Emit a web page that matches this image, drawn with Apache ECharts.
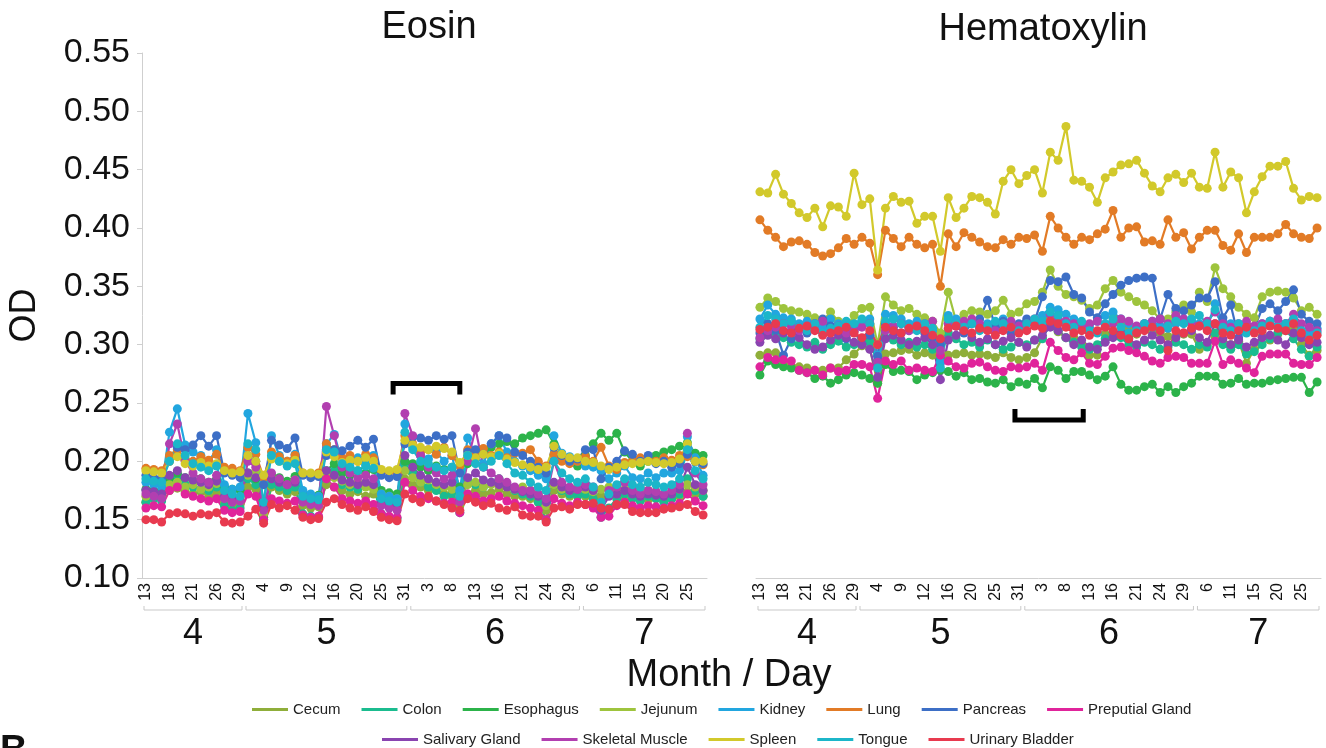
<!DOCTYPE html>
<html>
<head>
<meta charset="utf-8">
<title>Eosin / Hematoxylin OD</title>
<script src="https://cdn.jsdelivr.net/npm/echarts@6/dist/echarts.min.js"></script>
<style>
  html, body { margin: 0; padding: 0; background: #fff; }
  #chart { width: 1326px; height: 748px; }
</style>
</head>
<body>
<div id="chart"></div>
<script>
// sampling days (month/day), 72 per panel
var days = ['4/13','4/14','4/15','4/18','4/19','4/20','4/21','4/22','4/25','4/26','4/27','4/28','4/29',
  '5/2','5/3','5/4','5/5','5/6','5/9','5/10','5/11','5/12','5/13','5/14','5/16','5/17','5/19','5/20','5/23','5/24','5/25','5/26','5/27','5/31',
  '6/1','6/2','6/3','6/6','6/7','6/8','6/9','6/10','6/13','6/14','6/15','6/16','6/17','6/20','6/21','6/22','6/23','6/24','6/27','6/28','6/29','6/30',
  '7/5','7/6','7/7','7/8','7/11','7/12','7/14','7/15','7/18','7/19','7/20','7/21','7/22','7/25','7/26','7/27'];

var tissues = ['Cecum','Colon','Esophagus','Jejunum','Kidney','Lung','Pancreas','Preputial Gland',
  'Salivary Gland','Skeletal Muscle','Spleen','Tongue','Urinary Bladder'];
var colors = ['#8fae3a','#1bbc8f','#2cb34a','#9ec43d','#22a6df','#e27b26','#3d6fc6','#e0249b',
  '#8a44b0','#b23fb0','#d2c92b','#1cb6c9','#e83a4f'];

// ---- Eosin OD ----
var cecumE = [.165,.168,.170,.175,.177,.174,.172,.174,.170,.173, .165,.162,.163,.178,.176,.150,.178,.175,.172,.174,
  .162,.160,.161,.180,.178,.175,.172,.174,.170,.172, .165,.163,.162,.185,.180,.178,.175,.176,.172,.170,
  .162,.172,.175,.172,.173,.176,.172,.170,.170,.168, .165,.158,.175,.172,.170,.172,.170,.168,.170,.172,
  .169,.168,.170,.168,.167,.168,.166,.168,.170,.174, .172,.170];
var colonE = [.165,.168,.166,.182,.188,.180,.178,.176,.175,.178, .162,.158,.160,.185,.180,.150,.180,.178,.175,.178,
  .155,.153,.152,.185,.192,.180,.178,.176,.180,.178, .155,.152,.151,.198,.190,.182,.178,.175,.170,.172,
  .156,.185,.180,.178,.182,.185,.180,.175,.172,.170, .165,.150,.180,.175,.172,.170,.172,.168,.152,.160,
  .168,.172,.168,.166,.170,.168,.165,.168,.172,.185, .175,.170];
var esophagusE = [.176,.175,.174,.185,.190,.186,.183,.185,.182,.184, .178,.176,.175,.190,.185,.152,.188,.186,.183,.187,
  .172,.170,.171,.192,.198,.190,.188,.192,.190,.193, .175,.173,.172,.200,.198,.195,.192,.196,.193,.195,
  .178,.198,.205,.208,.212,.215,.217,.215,.220,.222, .224,.227,.215,.205,.200,.196,.205,.215,.224,.218,
  .224,.208,.200,.196,.200,.205,.208,.210,.213,.216, .207,.205];
var jejunumE = [.170,.172,.171,.180,.182,.178,.180,.176,.178,.181, .170,.168,.169,.188,.192,.155,.186,.183,.180,.184,
  .170,.168,.167,.190,.186,.183,.180,.182,.178,.176, .172,.170,.168,.192,.186,.182,.184,.180,.178,.176,
  .170,.180,.182,.178,.180,.182,.178,.176,.178,.175, .172,.162,.180,.176,.175,.178,.176,.174,.176,.178,
  .175,.176,.178,.176,.175,.174,.172,.174,.176,.180, .178,.175];
var kidneyE = [.182,.180,.178,.225,.245,.214,.208,.205,.200,.210, .180,.176,.178,.241,.216,.162,.222,.205,.200,.206,
  .175,.172,.170,.215,.223,.200,.195,.203,.198,.205, .172,.170,.168,.232,.212,.205,.202,.208,.200,.205,
  .175,.220,.205,.198,.215,.222,.208,.200,.196,.192, .188,.185,.222,.207,.204,.200,.196,.195,.192,.185,
  .190,.196,.186,.185,.190,.186,.190,.190,.192,.221, .203,.188];
var lungE = [.194,.193,.192,.205,.210,.202,.200,.204,.201,.206, .195,.194,.192,.212,.206,.186,.208,.204,.200,.205,
  .190,.189,.190,.215,.210,.203,.205,.200,.206,.203, .192,.191,.190,.222,.215,.208,.210,.206,.212,.205,
  .196,.210,.206,.211,.205,.208,.203,.207,.207,.210, .200,.196,.206,.200,.198,.200,.204,.200,.212,.196,
  .193,.199,.200,.203,.202,.200,.203,.201,.205,.204, .200,.197];
var pancreasE = [.188,.186,.185,.200,.212,.210,.214,.222,.213,.222, .190,.188,.186,.205,.200,.180,.218,.214,.211,.220,
  .188,.186,.187,.205,.210,.209,.213,.218,.212,.219, .188,.186,.187,.215,.221,.220,.218,.222,.219,.222,
  .190,.208,.210,.206,.215,.222,.220,.208,.205,.200, .195,.190,.212,.205,.200,.202,.210,.210,.185,.195,
  .200,.209,.206,.200,.205,.198,.200,.195,.198,.206, .200,.198];
var preputialE = [.160,.162,.161,.175,.178,.172,.170,.168,.166,.168, .158,.156,.157,.172,.170,.150,.168,.166,.164,.166,
  .154,.152,.153,.185,.178,.168,.166,.164,.166,.163, .155,.153,.152,.182,.175,.170,.168,.166,.164,.165,
  .156,.172,.170,.166,.168,.170,.166,.164,.162,.160, .158,.150,.168,.164,.162,.165,.163,.160,.152,.153,
  .162,.165,.162,.160,.162,.161,.160,.162,.164,.172, .166,.162];
var salivaryE = [.175,.174,.172,.188,.192,.186,.184,.182,.180,.183, .170,.168,.167,.190,.186,.160,.185,.182,.180,.182,
  .168,.165,.166,.192,.188,.184,.182,.180,.182,.180, .166,.164,.163,.205,.195,.188,.185,.182,.180,.182,
  .168,.186,.190,.184,.182,.180,.178,.176,.174,.172, .170,.165,.182,.178,.175,.176,.178,.175,.158,.170,
  .172,.175,.172,.170,.172,.171,.170,.172,.176,.195, .180,.175];
var skeletalE = [.172,.170,.168,.215,.232,.200,.190,.185,.182,.188, .168,.165,.166,.200,.195,.158,.190,.185,.180,.184,
  .165,.163,.162,.247,.222,.195,.190,.186,.188,.185, .162,.160,.158,.241,.222,.205,.195,.190,.185,.188,
  .165,.200,.228,.195,.190,.185,.182,.178,.175,.175, .172,.168,.200,.182,.178,.176,.180,.178,.160,.175,
  .178,.182,.175,.172,.175,.174,.172,.175,.180,.224, .190,.180];
var spleenE = [.192,.191,.190,.200,.204,.198,.196,.199,.196,.198, .192,.190,.191,.205,.200,.188,.202,.200,.198,.201,
  .190,.190,.189,.208,.204,.199,.201,.200,.203,.200, .193,.192,.193,.218,.214,.212,.210,.213,.211,.208,
  .199,.205,.203,.206,.204,.207,.202,.199,.197,.195, .193,.195,.213,.206,.203,.203,.200,.199,.196,.193,
  .195,.197,.198,.199,.200,.199,.198,.199,.202,.215, .200,.200];
var tongueE = [.185,.183,.182,.200,.215,.205,.198,.195,.192,.196, .175,.172,.170,.215,.210,.165,.205,.200,.196,.198,
  .170,.168,.167,.210,.208,.198,.195,.192,.196,.194, .168,.166,.165,.225,.210,.200,.198,.195,.192,.195,
  .170,.205,.198,.195,.200,.205,.198,.190,.188,.182, .178,.175,.200,.190,.185,.182,.185,.178,.165,.172,
  .180,.185,.180,.178,.182,.180,.178,.180,.185,.210, .192,.185];
var bladderE = [.150,.150,.148,.155,.156,.155,.153,.155,.154,.156, .148,.147,.148,.153,.159,.147,.163,.160,.162,.158,
  .152,.150,.151,.165,.168,.163,.160,.158,.161,.157, .152,.150,.149,.172,.168,.165,.170,.166,.163,.160,
  .158,.168,.165,.162,.164,.160,.158,.161,.154,.153, .153,.148,.160,.161,.159,.163,.163,.164,.160,.159,
  .163,.163,.157,.156,.156,.156,.159,.160,.161,.163, .157,.154];

// ---- Hematoxylin OD ----
var cecumH = [.291,.293,.293,.286,.281,.281,.280,.278,.278,.280, .280,.287,.292,.299,.297,.267,.292,.293,.295,.296,
  .291,.293,.291,.293,.291,.292,.293,.291,.292,.291, .289,.293,.289,.287,.289,.293,.306,.322,.311,.306,
  .306,.300,.291,.291,.309,.323,.320,.315,.309,.314, .311,.310,.307,.307,.309,.309,.296,.300,.307,.301,
  .300,.303,.284,.296,.307,.304,.309,.315,.312,.300, .291,.295];
var colonH = [.305,.312,.310,.306,.302,.300,.298,.302,.296,.300, .303,.298,.300,.305,.302,.285,.306,.304,.300,.302,
  .298,.300,.296,.288,.310,.305,.300,.302,.298,.304, .300,.296,.298,.302,.300,.304,.305,.318,.312,.306,
  .302,.298,.296,.300,.305,.310,.306,.300,.298,.302, .300,.296,.298,.302,.300,.296,.300,.298,.310,.300,
  .296,.300,.292,.294,.300,.305,.310,.312,.305,.296, .290,.298];
var esophagusH = [.274,.286,.283,.281,.280,.278,.276,.271,.273,.267, .270,.274,.276,.274,.271,.267,.283,.277,.278,.277,
  .270,.274,.276,.278,.277,.273,.276,.270,.271,.268, .267,.270,.264,.268,.266,.271,.263,.281,.278,.271,
  .277,.277,.274,.270,.273,.281,.266,.261,.261,.264, .266,.259,.264,.259,.264,.267,.273,.273,.273,.266,
  .267,.271,.266,.267,.267,.269,.270,.271,.272,.272, .259,.268];
var jejunumH = [.332,.340,.337,.331,.329,.328,.326,.323,.320,.328, .320,.315,.325,.331,.332,.300,.341,.334,.329,.331,
  .326,.323,.320,.310,.345,.320,.326,.329,.328,.326, .329,.338,.326,.328,.335,.337,.345,.364,.350,.343,
  .341,.338,.331,.334,.348,.355,.345,.341,.337,.334, .329,.322,.322,.328,.334,.328,.345,.337,.366,.348,
  .341,.332,.326,.323,.341,.345,.346,.345,.340,.329, .332,.326];
var kidneyH = [.322,.334,.326,.323,.322,.318,.320,.316,.315,.322, .318,.312,.315,.320,.322,.291,.326,.325,.322,.318,
  .320,.316,.312,.285,.325,.322,.318,.320,.316,.318, .315,.322,.318,.316,.320,.318,.325,.332,.330,.326,
  .322,.318,.315,.320,.325,.328,.322,.318,.315,.318, .320,.316,.314,.318,.322,.320,.318,.315,.335,.320,
  .318,.316,.312,.315,.318,.320,.316,.318,.320,.312, .310,.314];
var lungH = [.407,.398,.392,.384,.388,.389,.386,.379,.376,.378, .383,.391,.386,.392,.387,.360,.398,.391,.384,.392,
  .386,.383,.386,.350,.395,.384,.396,.392,.388,.384, .383,.390,.386,.392,.391,.394,.380,.410,.400,.392,
  .386,.392,.390,.395,.399,.415,.392,.400,.401,.388, .389,.386,.407,.392,.396,.382,.392,.398,.398,.385,
  .381,.395,.379,.392,.392,.392,.395,.403,.395,.392, .391,.400];
var pancreasH = [.310,.318,.312,.291,.305,.315,.310,.318,.322,.316, .310,.305,.312,.300,.308,.290,.318,.315,.310,.312,
  .315,.310,.306,.300,.318,.316,.310,.318,.322,.338, .315,.320,.310,.318,.322,.320,.341,.355,.354,.358,
  .343,.340,.328,.323,.335,.343,.351,.355,.357,.358, .357,.322,.343,.331,.329,.334,.340,.340,.354,.323,
  .334,.306,.312,.314,.331,.335,.329,.337,.347,.326, .320,.318];
var preputialH = [.281,.289,.287,.287,.286,.278,.276,.278,.274,.280, .277,.278,.283,.283,.281,.254,.286,.283,.286,.278,
  .280,.278,.277,.291,.286,.281,.280,.284,.285,.281, .278,.277,.281,.280,.281,.284,.278,.302,.295,.289,
  .287,.293,.284,.283,.290,.297,.298,.295,.293,.290, .286,.284,.289,.290,.289,.284,.284,.284,.303,.283,
  .287,.284,.280,.276,.290,.292,.292,.292,.284,.283, .283,.289];
var salivaryH = [.302,.308,.305,.310,.312,.306,.300,.296,.298,.304, .308,.306,.302,.300,.296,.272,.305,.308,.304,.300,
  .303,.306,.300,.270,.304,.308,.312,.306,.302,.305, .300,.303,.306,.302,.298,.304,.308,.315,.312,.306,
  .300,.304,.298,.296,.302,.306,.310,.305,.300,.304, .308,.304,.300,.306,.310,.312,.306,.302,.318,.305,
  .300,.304,.298,.302,.306,.308,.304,.300,.310,.306, .300,.302];
var skeletalH = [.306,.312,.315,.318,.316,.312,.315,.318,.320,.312, .316,.310,.312,.315,.318,.285,.312,.316,.318,.312,
  .315,.318,.320,.295,.318,.316,.320,.322,.318,.315, .312,.318,.320,.316,.318,.322,.315,.326,.322,.320,
  .318,.315,.318,.320,.316,.318,.322,.320,.316,.318, .320,.322,.318,.325,.322,.318,.316,.320,.328,.318,
  .315,.318,.320,.316,.318,.320,.322,.318,.326,.318, .315,.312];
var spleenH = [.431,.430,.446,.429,.421,.413,.409,.417,.401,.419, .418,.410,.447,.420,.425,.364,.417,.427,.422,.423,
  .404,.410,.410,.380,.426,.409,.417,.427,.426,.422, .412,.440,.450,.438,.445,.450,.430,.465,.458,.487,
  .441,.440,.435,.422,.443,.448,.454,.455,.458,.447, .436,.431,.443,.446,.439,.447,.435,.434,.465,.435,
  .448,.443,.413,.431,.444,.453,.453,.457,.434,.424, .427,.426];
var tongueH = [.315,.325,.322,.318,.320,.315,.312,.318,.310,.314, .316,.320,.318,.322,.318,.280,.320,.322,.318,.315,
  .312,.318,.314,.280,.322,.318,.315,.318,.312,.316, .320,.318,.315,.312,.318,.322,.320,.328,.325,.318,
  .315,.320,.312,.310,.318,.322,.315,.310,.312,.318, .315,.312,.316,.320,.318,.322,.325,.318,.330,.315,
  .312,.318,.310,.312,.316,.320,.315,.318,.322,.312, .305,.310];
var bladderH = [.313,.315,.318,.312,.310,.314,.316,.312,.308,.310, .312,.315,.310,.306,.312,.300,.315,.312,.310,.314,
  .316,.312,.308,.305,.314,.316,.312,.310,.314,.312, .308,.312,.315,.310,.312,.316,.314,.320,.318,.315,
  .310,.312,.308,.312,.315,.312,.308,.305,.310,.312, .315,.312,.295,.312,.310,.314,.316,.312,.318,.310,
  .308,.312,.315,.310,.312,.316,.314,.312,.318,.310, .304,.308];

var eosin = [cecumE, colonE, esophagusE, jejunumE, kidneyE, lungE, pancreasE, preputialE,
  salivaryE, skeletalE, spleenE, tongueE, bladderE];
var hema = [cecumH, colonH, esophagusH, jejunumH, kidneyH, lungH, pancreasH, preputialH,
  salivaryH, skeletalH, spleenH, tongueH, bladderH];

// black brackets: [from index, to index, OD level, legs direction]
var bracketE = [[31.5, 40, 0.2668, 1]];
var bracketH = [[32.5, 41.2, 0.2355, -1]];

var FONT = '"Liberation Sans", Arial, Helvetica, sans-serif';

// month groups from the day list: [first index, last index, month]
var months = [];
days.forEach(function (d, i) {
  var m = d.split('/')[0];
  var last = months[months.length - 1];
  if (last && last[2] === m) { last[1] = i; } else { months.push([i, i, m]); }
});

function renderMonth(params, api) {
  var s = api.coord([api.value(0), 0.1]);
  var e = api.coord([api.value(1), 0.1]);
  var half = api.size([1, 0])[0] / 2;
  var x1 = s[0] - half + 2, x2 = e[0] + half - 2, y = s[1] + 32;
  return {
    type: 'group',
    children: [{
      type: 'polyline',
      shape: { points: [[x1, y - 4], [x1, y], [x2, y], [x2, y - 4]] },
      style: { stroke: '#c9c9c9', lineWidth: 1, fill: null }
    }, {
      type: 'text',
      x: (x1 + x2) / 2, y: y + 24,
      style: { text: months[params.dataIndex][2], fontSize: 36, fontFamily: FONT, fill: '#111',
        align: 'center', verticalAlign: 'middle' }
    }]
  };
}

function renderBracket(params, api) {
  var band = api.size([1, 0])[0];
  function xAt(v) { var f = Math.floor(v); return api.coord([f, 0.1])[0] + (v - f) * band; }
  var x1 = xAt(api.value(0)), x2 = xAt(api.value(1));
  var y = api.coord([0, api.value(2)])[1];
  var leg = 11 * api.value(3);
  return {
    type: 'polyline',
    shape: { points: [[x1, y + leg], [x1, y], [x2, y], [x2, y + leg]] },
    style: { stroke: '#000', lineWidth: 5, fill: null, lineJoin: 'miter' }
  };
}

function lineSeries(name, color, data, idx) {
  return {
    name: name, type: 'line', xAxisIndex: idx, yAxisIndex: idx,
    data: data, symbol: 'circle', symbolSize: 9, showAllSymbol: true,
    lineStyle: { width: 2.2, color: color }, itemStyle: { color: color },
    emphasis: { disabled: true }
  };
}

var series = [];
tissues.forEach(function (t, k) {
  series.push(lineSeries(t, colors[k], eosin[k], 0));
  series.push(lineSeries(t, colors[k], hema[k], 1));
});
[0, 1].forEach(function (idx) {
  series.push({ type: 'custom', xAxisIndex: idx, yAxisIndex: idx, clip: false, silent: true,
    renderItem: renderMonth, data: months.map(function (m) { return [m[0], m[1]]; }) });
  series.push({ type: 'custom', xAxisIndex: idx, yAxisIndex: idx, clip: false, silent: true, z: 5,
    renderItem: renderBracket, data: idx ? bracketH : bracketE });
});

function xAxis(idx) {
  return {
    type: 'category', gridIndex: idx, data: days, boundaryGap: true,
    axisLine: { lineStyle: { color: '#cfcfcf', width: 1 } },
    axisTick: { show: false },
    axisLabel: { interval: 2, rotate: 90, margin: 5, fontSize: 16, color: '#111', fontFamily: FONT,
      formatter: function (v) { return v.split('/')[1]; } }
  };
}

function yAxis(idx) {
  return {
    type: 'value', gridIndex: idx, min: 0.1, max: 0.55, interval: 0.05,
    name: idx ? '' : 'OD', nameLocation: 'middle', nameGap: 99,
    nameTextStyle: { fontSize: 36, color: '#111', fontFamily: FONT },
    axisLine: { show: !idx, lineStyle: { color: '#cfcfcf' } },
    axisTick: { show: !idx, length: 5, lineStyle: { color: '#cfcfcf' } },
    axisLabel: { show: !idx, fontSize: 34, color: '#111', margin: 12, fontFamily: FONT,
      formatter: function (v) { return v.toFixed(2); } },
    splitLine: { show: false }
  };
}

var legendText = { fontSize: 15, color: '#222', fontFamily: FONT };

var option = {
  animation: false,
  backgroundColor: '#fff',
  color: colors,
  title: [
    { text: 'Eosin', left: 424, top: 4, textAlign: 'center',
      textStyle: { fontSize: 38, fontWeight: 'normal', color: '#111', fontFamily: FONT } },
    { text: 'Hematoxylin', left: 1038, top: 6, textAlign: 'center',
      textStyle: { fontSize: 38, fontWeight: 'normal', color: '#111', fontFamily: FONT } },
    { text: 'Month / Day', left: 724, top: 652, textAlign: 'center',
      textStyle: { fontSize: 38, fontWeight: 'normal', color: '#111', fontFamily: FONT } }
  ],
  legend: [
    { data: tissues.slice(0, 8), left: 247, top: 697, icon: 'rect', itemWidth: 36, itemHeight: 3,
      itemGap: 21, textStyle: legendText, selectedMode: false },
    { data: tissues.slice(8), left: 377, top: 727, icon: 'rect', itemWidth: 36, itemHeight: 3,
      itemGap: 21, textStyle: legendText, selectedMode: false }
  ],
  grid: [
    { left: 142, width: 565, top: 53, height: 525 },
    { left: 756, width: 565, top: 53, height: 525 }
  ],
  xAxis: [xAxis(0), xAxis(1)],
  yAxis: [yAxis(0), yAxis(1)],
  graphic: [
    { type: 'text', left: 0, top: 733, style: { text: 'B', fontSize: 38, fontWeight: 'bold', fill: '#111', fontFamily: FONT } }
  ],
  series: series
};

var chart = echarts.init(document.getElementById('chart'));
chart.setOption(option);
window.onresize = function () { chart.resize(); };
</script>
</body>
</html>
